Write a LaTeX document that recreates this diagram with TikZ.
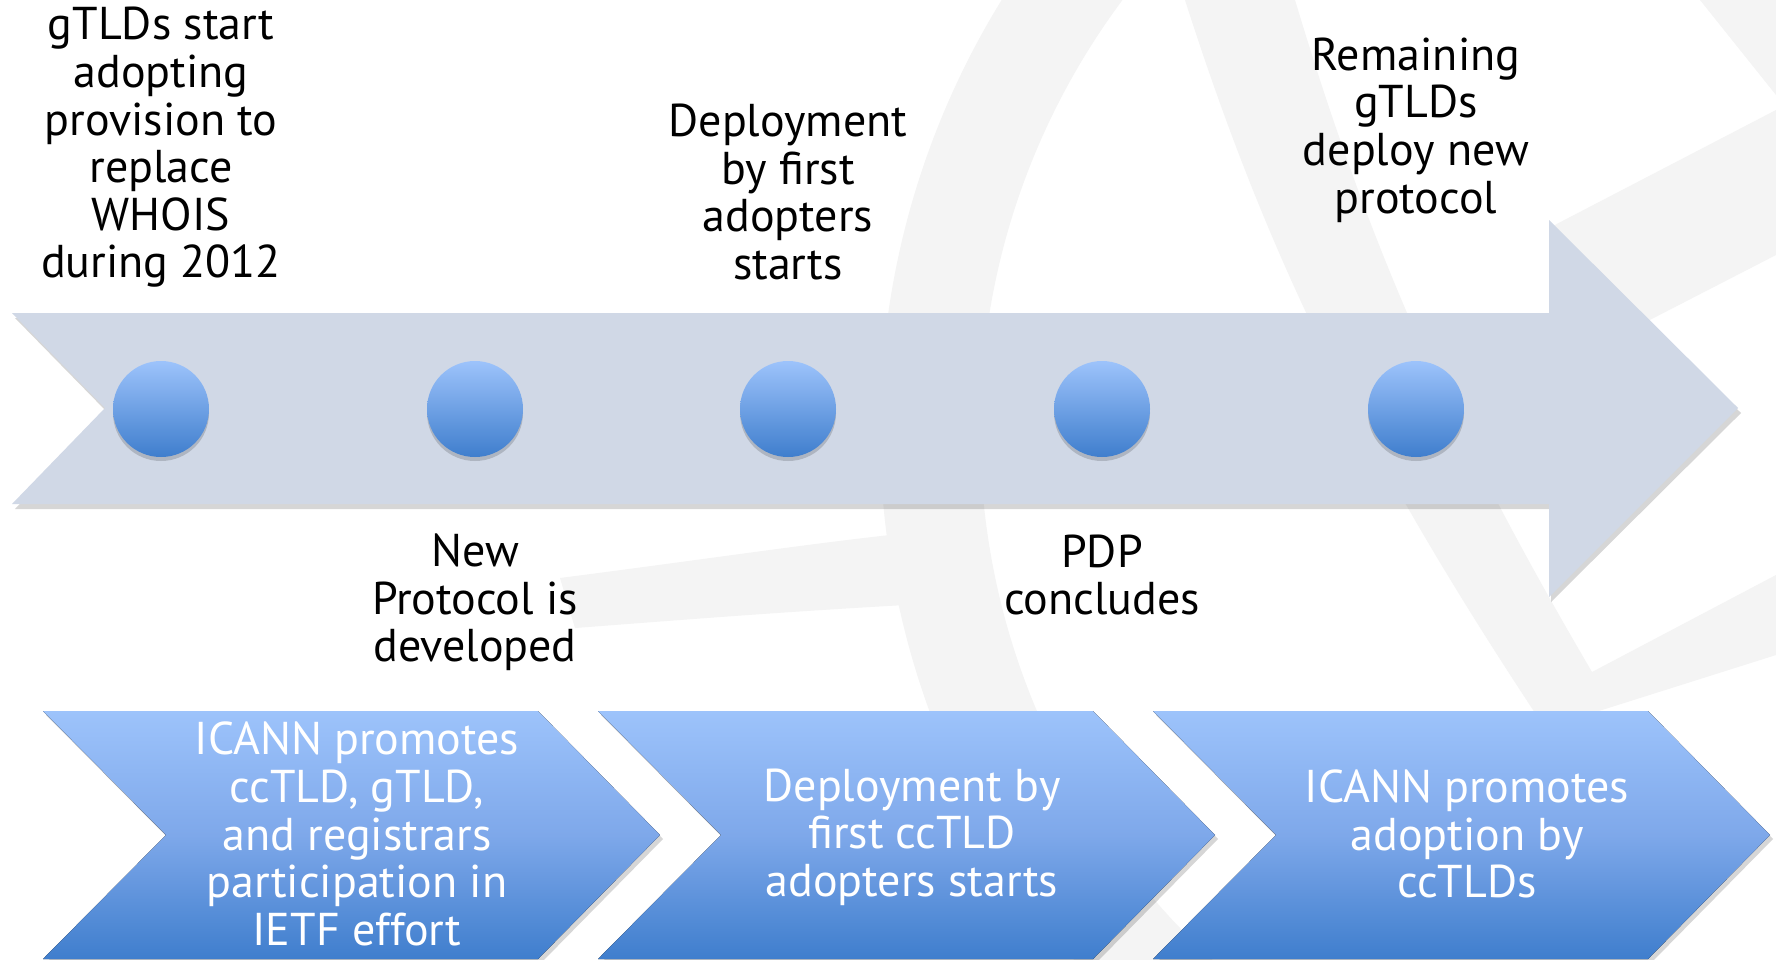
\documentclass[tikz,border=0pt]{standalone}
\usepackage{fontspec}
\setmainfont{PT Sans}
\definecolor{bandc}{HTML}{D0D8E6}
\definecolor{ltop}{HTML}{9DC3FB}
\definecolor{lmid}{HTML}{7EA8EA}
\definecolor{lbot}{HTML}{3F7ECD}
\definecolor{wmc}{HTML}{F4F4F4}
\begin{document}
\begin{tikzpicture}[x=1pt,y=-1pt,
  lbl/.style={align=center, font=\fontsize{46}{47.6}\selectfont, text=black, inner sep=0pt},
  wlbl/.style={align=center, font=\fontsize{46}{47.6}\selectfont, text=white, inner sep=0pt},
  dot/.style={circle, minimum size=96pt, inner sep=0pt, top color=ltop, bottom color=lbot, draw=none},
  dotshadow/.style={circle, minimum size=96pt, inner sep=0pt, fill=black, opacity=0.16, draw=none},
  shad/.style={fill=black, opacity=0.16},
  chev/.style={top color=ltop, bottom color=lbot, middle color=lmid},
  wm/.style={fill=wmc}
]
\useasboundingbox (0,0) rectangle (1776,959);
\fill[white] (0,0) rectangle (1776,959);

% watermark (faint globe)
\begin{scope}
\clip (0,0) rectangle (1776,959);
\fill[wm, even odd rule] (1700,430) circle[radius=820] (1700,430) circle[radius=720];
\fill[wm] (1185,0) .. controls (1265,250) and (1360,450) .. (1545,728)
  -- (1776,655) -- (1776,575) -- (1592,672)
  .. controls (1450,430) and (1370,250) .. (1295,0) -- cycle;
\fill[wm] (1549,228) -- (1776,110) -- (1776,255) -- (1640,325) -- cycle;
\fill[wm] (1700,0) -- (1776,0) -- (1776,95) -- cycle;
\fill[wm] (560,578) .. controls (700,560) and (800,545) .. (890,535)
  -- (905,605) .. controls (780,612) and (680,620) .. (575,628) -- cycle;
\end{scope}

% big arrow
\fill[shad] (15,318) -- (1551,318) -- (1551,225) -- (1741,413) -- (1551,602) -- (1551,509) -- (15,509) -- (108,413) -- cycle;
\fill[bandc] (12,313) -- (1549,313) -- (1549,220) -- (1738,408) -- (1549,597) -- (1549,504) -- (12,504) -- (105,408) -- cycle;

% dots
\foreach \i/\x in {1/161,2/475,3/788,4/1102,5/1416}{
  \node[dotshadow] (s\i) at (\x,413) {};
  \node[dot] (d\i) at (\x,409) {};
}

% chevrons
\foreach \L in {43,598,1153}{
  \fill[shad] (\L+3,715) -- (\L+498,715) -- (\L+620,839) -- (\L+498,963) -- (\L+3,963) -- (\L+126,839) -- cycle;
  \fill[chev] (\L,711) -- (\L+495,711) -- (\L+617,835) -- (\L+495,959) -- (\L,959) -- (\L+123,835) -- cycle;
}

% labels above/below
\node[lbl] (t1) at (161,147.5) {gTLDs start\\adopting\\provision to\\replace\\WHOIS\\during 2012};
\node[lbl] (t2) at (475,602.5) {New\\Protocol is\\developed};
\node[lbl] (t3) at (788,192) {Deployment\\by first\\adopters\\starts};
\node[lbl] (t4) at (1102,575) {PDP\\concludes};
\node[lbl] (t5) at (1416,130) {Remaining\\gTLDs\\deploy new\\protocol};

% chevron labels
\node[wlbl] (c1) at (357,834) {ICANN promotes\\ccTLD, gTLD,\\and registrars\\participation in\\IETF effort};
\node[wlbl] (c2) at (912,837) {Deployment by\\first ccTLD\\adopters starts};
\node[wlbl] (c3) at (1467,834) {ICANN promotes\\adoption by\\ccTLDs};
\end{tikzpicture}
\end{document}
